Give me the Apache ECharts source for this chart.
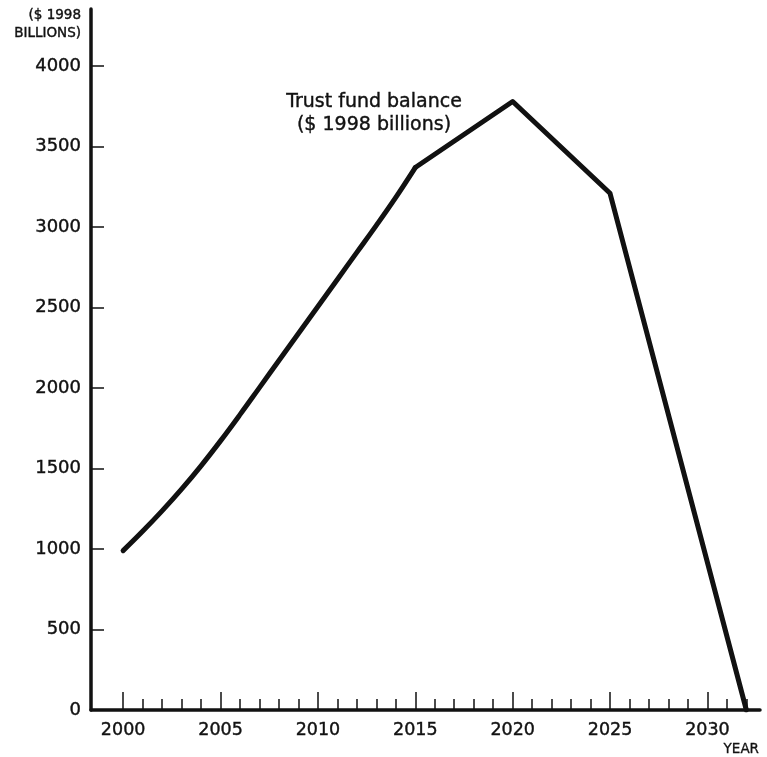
<!DOCTYPE html>
<html>
<head>
<meta charset="utf-8">
<script src="https://cdn.jsdelivr.net/npm/echarts@6/dist/echarts.min.js"></script>
<style>
html,body{margin:0;padding:0;background:#fff;}
#c{width:767px;height:757px;}
</style>
</head>
<body>
<div id="c"></div>
<script>
// Data
const curveYears = [2000, 2001, 2002, 2003, 2004, 2005, 2006, 2007, 2008, 2009, 2010, 2011, 2012, 2013, 2014, 2015];
const curveBalance = [990, 1110, 1237, 1372, 1517, 1672, 1835, 2003, 2171, 2339, 2507, 2675, 2843, 3011, 3185, 3370];
const laterYears = [2015, 2020, 2025, 2032];
const laterBalance = [3370, 3780, 3210, 0];
const majorYearTicks = [2000, 2005, 2010, 2015, 2020, 2025, 2030];
const minorYearTicks = [2000, 2001, 2002, 2003, 2004, 2005, 2006, 2007, 2008, 2009, 2010, 2011, 2012, 2013, 2014, 2015, 2016, 2017, 2018, 2019, 2020, 2021, 2022, 2023, 2024, 2025, 2026, 2027, 2028, 2029, 2030, 2031, 2032];
const yTicks = [0, 500, 1000, 1500, 2000, 2500, 3000, 3500, 4000];
const yUnitLabel = '($ 1998\nBILLIONS)';
const seriesLabel = 'Trust fund balance\n($ 1998 billions)';
const xUnitLabel = 'YEAR';

const FONT = '"DejaVu Sans", sans-serif';
const INK = '#111';

const chart = echarts.init(document.getElementById('c'), null, {renderer: 'canvas'});
const xMin = 1998.35, xMax = 2032.7, yMax = 4355;

chart.setOption({
  animation: false,
  backgroundColor: '#fff',
  grid: {left: 91, right: 7, top: 9, bottom: 47, containLabel: false},
  graphic: [
    {type: 'text', x: 81, y: 6, style: {text: yUnitLabel, font: '13.5px ' + FONT, fill: INK, stroke: INK, lineWidth: 0.4, align: 'right', textAlign: 'right', lineHeight: 18.5}},
    {type: 'text', x: 374, y: 91, style: {text: seriesLabel, font: '19px ' + FONT, fill: INK, stroke: INK, lineWidth: 0.4, align: 'center', textAlign: 'center', lineHeight: 22.5}},
    {type: 'text', x: 759, y: 742, style: {text: xUnitLabel, font: '13.5px ' + FONT, fill: INK, stroke: INK, lineWidth: 0.3, align: 'right', textAlign: 'right'}}
  ],
  xAxis: [
    {
      type: 'value', min: xMin, max: xMax, position: 'bottom',
      splitLine: {show: false},
      axisLine: {show: true, onZero: false, lineStyle: {color: INK, width: 3.5}},
      axisTick: {show: true, inside: true, length: 18, customValues: majorYearTicks, lineStyle: {color: INK, width: 1.5}},
      axisLabel: {show: true, customValues: majorYearTicks, margin: 11, fontFamily: FONT, fontSize: 17.5, color: INK, textBorderColor: INK, textBorderWidth: 0.4, formatter: v => String(Math.round(v))}
    },
    {
      type: 'value', min: xMin, max: xMax, position: 'bottom',
      splitLine: {show: false},
      axisLine: {show: false},
      axisTick: {show: true, inside: true, length: 11, customValues: minorYearTicks, lineStyle: {color: INK, width: 1.5}},
      axisLabel: {show: false}
    }
  ],
  yAxis: {
    type: 'value', min: 0, max: yMax,
    splitLine: {show: false},
    axisLine: {show: true, onZero: false, lineStyle: {color: INK, width: 3.5}},
    axisTick: {show: true, inside: true, length: 13, customValues: yTicks, lineStyle: {color: INK, width: 1.5}},
    axisLabel: {show: true, customValues: yTicks, margin: 10, fontFamily: FONT, fontSize: 18, color: INK, textBorderColor: INK, textBorderWidth: 0.4, formatter: v => String(v)}
  },
  series: [{
    type: 'line',
    xAxisIndex: 0,
    data: curveYears.map((y, i) => [y, curveBalance[i]]),
    showSymbol: false,
    symbol: 'none',
    lineStyle: {color: INK, width: 5, cap: 'round', join: 'round'},
    smooth: 0.4
  }, {
    type: 'line',
    xAxisIndex: 0,
    data: laterYears.map((y, i) => [y, laterBalance[i]]),
    showSymbol: false,
    symbol: 'none',
    lineStyle: {color: INK, width: 5, cap: 'round', join: 'round'},
    smooth: false
  }]
});
</script>
</body>
</html>
